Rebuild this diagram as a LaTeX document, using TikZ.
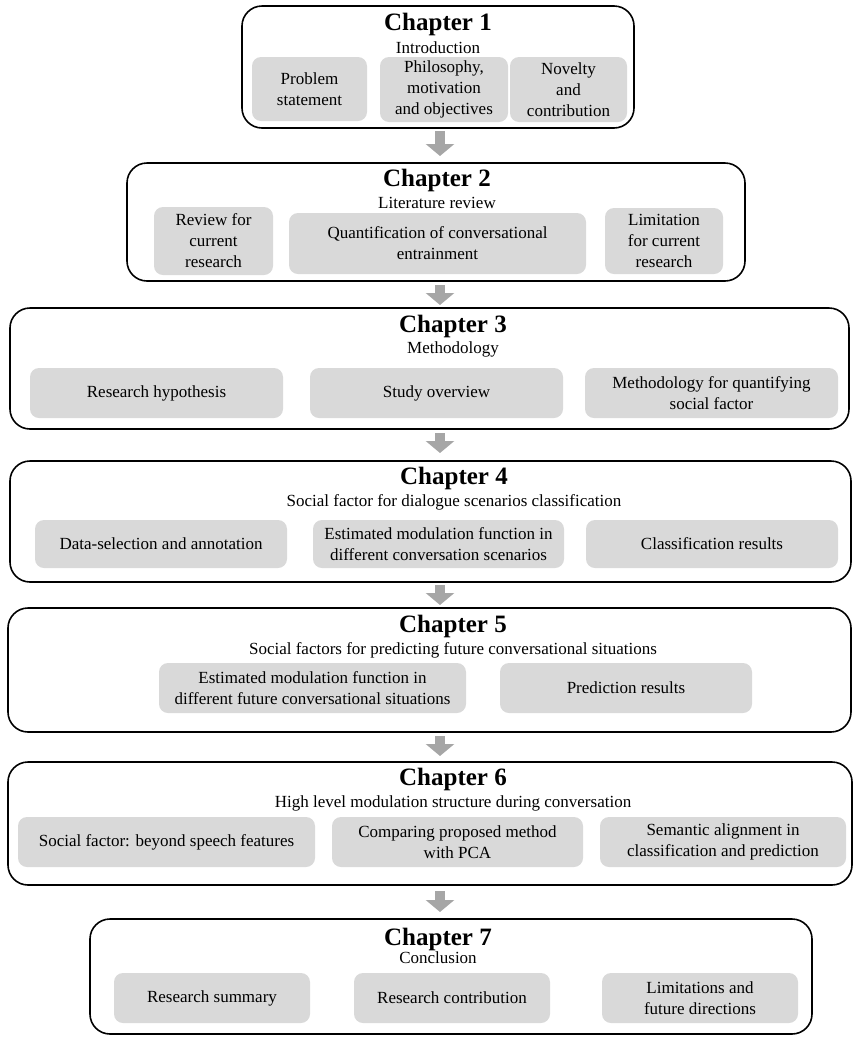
\documentclass[tikz,border=0pt]{standalone}
\usepackage{fontspec}
\setmainfont{Liberation Serif}
\usetikzlibrary{arrows.meta,calc}

\definecolor{boxgray}{RGB}{217,217,217}
\definecolor{arrowgray}{RGB}{166,166,166}

\tikzset{
  chapbox/.style={draw=black, line width=1.6pt, rounded corners=20pt,
    inner sep=0pt, outer sep=0pt},
  itembox/.style={fill=boxgray, rounded corners=9pt, inner sep=2pt,
    outer sep=0pt, align=center,
    font=\fontsize{17}{21}\selectfont},
  chaptitle/.style={anchor=base, inner sep=0pt,
    font=\fontsize{25}{28}\selectfont\bfseries},
  chapsub/.style={anchor=base, inner sep=0pt,
    font=\fontsize{17}{20}\selectfont},
  flow/.style={draw=arrowgray, line width=10pt,
    -{Triangle[width=28pt,length=12pt]}}
}

\begin{document}
\begin{tikzpicture}[x=1pt, y=-1pt]
\useasboundingbox (0,0) rectangle (853,1037);
\coordinate (ax) at (440,0);

% ---------- Chapter 1
\node[chapbox, minimum width=392pt, minimum height=122pt] (ch1) at (438,67) {};
\node[chaptitle] (t1) at (438,30) {Chapter 1};
\node[chapsub] (s1) at (438,53) {Introduction};
\node[itembox, minimum width=115pt, minimum height=64pt] (c1a) at (309.5,89) {Problem\\statement};
\node[itembox, minimum width=128pt, minimum height=65pt] (c1b) at (444,89.5) {Philosophy,\\motivation\\and objectives};
\node[itembox, minimum width=117pt, minimum height=65pt] (c1c) at (568.5,89.5) {Novelty\\and\\contribution};

% ---------- Chapter 2
\node[chapbox, minimum width=618pt, minimum height=118pt] (ch2) at (436,222) {};
\node[chaptitle] (t2) at (437,186) {Chapter 2};
\node[chapsub] (s2) at (437,208) {Literature review};
\node[itembox, minimum width=119pt, minimum height=68pt] (c2a) at (213.5,241) {Review for\\current\\research};
\node[itembox, minimum width=297pt, minimum height=61pt] (c2b) at (437.5,243.5) {Quantification of conversational\\entrainment};
\node[itembox, minimum width=118pt, minimum height=66pt] (c2c) at (664,241) {Limitation\\for current\\research};

% ---------- Chapter 3
\node[chapbox, minimum width=839pt, minimum height=121pt] (ch3) at (429.5,368.5) {};
\node[chaptitle] (t3) at (453,332) {Chapter 3};
\node[chapsub] (s3) at (453,353) {Methodology};
\node[itembox, minimum width=253pt, minimum height=50pt] (c3a) at (156.5,393) {Research hypothesis};
\node[itembox, minimum width=253pt, minimum height=50pt] (c3b) at (436.5,393) {Study overview};
\node[itembox, minimum width=253pt, minimum height=50pt] (c3c) at (711.5,393) {Methodology for quantifying\\social factor};

% ---------- Chapter 4
\node[chapbox, minimum width=841pt, minimum height=121pt] (ch4) at (430.5,521.5) {};
\node[chaptitle] (t4) at (454,484) {Chapter 4};
\node[chapsub] (s4) at (454,506) {Social factor for dialogue scenarios classification};
\node[itembox, minimum width=252pt, minimum height=48pt] (c4a) at (161,544) {Data-selection and annotation};
\node[itembox, minimum width=251pt, minimum height=48pt] (c4b) at (438.5,544) {Estimated modulation function in\\different conversation scenarios};
\node[itembox, minimum width=252pt, minimum height=48pt] (c4c) at (712,544) {Classification results};

% ---------- Chapter 5
\node[chapbox, minimum width=843pt, minimum height=124pt] (ch5) at (429.5,670) {};
\node[chaptitle] (t5) at (453,632) {Chapter 5};
\node[chapsub] (s5) at (453,654) {Social factors for predicting future conversational situations};
\node[itembox, minimum width=307pt, minimum height=50pt] (c5a) at (312.5,688) {Estimated modulation function in\\different future conversational situations};
\node[itembox, minimum width=252pt, minimum height=50pt] (c5b) at (626,688) {Prediction results};

% ---------- Chapter 6
\node[chapbox, minimum width=844pt, minimum height=123pt] (ch6) at (430,823.5) {};
\node[chaptitle] (t6) at (453,785) {Chapter 6};
\node[chapsub] (s6) at (453,807) {High level modulation structure during conversation};
\node[itembox, minimum width=297pt, minimum height=50pt] (c6a) at (166.5,842) {Social factor: beyond speech features};
\node[itembox, minimum width=251pt, minimum height=50pt] (c6b) at (457.5,842) {Comparing proposed method\\with PCA};
\node[itembox, minimum width=246pt, minimum height=50pt] (c6c) at (723,842) {Semantic alignment in\\classification and prediction};

% ---------- Chapter 7
\node[chapbox, minimum width=722pt, minimum height=115pt] (ch7) at (451,976.5) {};
\node[chaptitle] (t7) at (438,945) {Chapter 7};
\node[chapsub] (s7) at (438,963) {Conclusion};
\node[itembox, minimum width=196pt, minimum height=50pt] (c7a) at (212,998) {Research summary};
\node[itembox, minimum width=196pt, minimum height=50pt] (c7b) at (452,998) {Research contribution};
\node[itembox, minimum width=196pt, minimum height=50pt] (c7c) at (700,998) {Limitations and\\future directions};

% ---------- flow between chapters
\draw[flow] ($(ch1.south -| ax)+(0,3)$) -- ($(ch2.north -| ax)+(0,-7)$);
\draw[flow] ($(ch2.south -| ax)+(0,4)$) -- ($(ch3.north -| ax)+(0,-3)$);
\draw[flow] ($(ch3.south -| ax)+(0,4)$) -- ($(ch4.north -| ax)+(0,-8)$);
\draw[flow] ($(ch4.south -| ax)+(0,3)$) -- ($(ch5.north -| ax)+(0,-3)$);
\draw[flow] ($(ch5.south -| ax)+(0,4)$) -- ($(ch6.north -| ax)+(0,-6)$);
\draw[flow] ($(ch6.south -| ax)+(0,6)$) -- ($(ch7.north -| ax)+(0,-7)$);
\end{tikzpicture}
\end{document}
